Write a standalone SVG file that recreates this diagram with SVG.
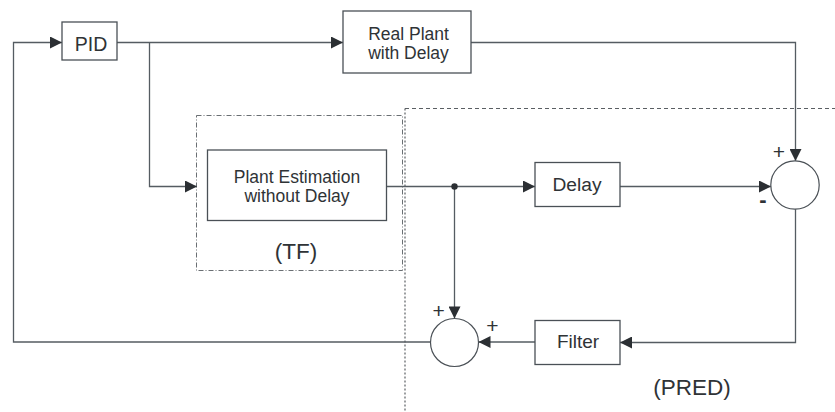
<svg xmlns="http://www.w3.org/2000/svg" width="835" height="412" viewBox="0 0 835 412">
<style>
.box{fill:#fff;stroke:#4a5056;stroke-width:1.3}
.ln{fill:none;stroke:#555c62;stroke-width:1.3}
.t{font-family:"Liberation Sans",Arial,sans-serif;fill:#2f3336;text-anchor:middle}
.tf{fill:none;stroke:#6a6f73;stroke-width:1;stroke-dasharray:5,2,1,2}
.pr{fill:none;stroke:#5a5f63;stroke-width:1;stroke-dasharray:4,3}
.prv{fill:none;stroke:#5a5f63;stroke-width:1.2;stroke-dasharray:2,2}
</style>
<defs>
<marker id="ah" markerUnits="userSpaceOnUse" markerWidth="13" markerHeight="12" viewBox="0 0 12 12" refX="12" refY="6" orient="auto">
<path d="M0,0 L12,6 L0,12 z" fill="#2b2f33"/>
</marker>
</defs>
<rect width="835" height="412" fill="#fff"/>
<g id="regions">
<rect class="tf" x="196.5" y="115.5" width="206" height="155"/>
<path class="pr" d="M405,108.5 H835"/>
<path class="prv" d="M405,108.5 V412"/>
<text class="t" x="296" y="258.5" font-size="22.5">(TF)</text>
<text class="t" x="692" y="395" font-size="22.5">(PRED)</text>
</g>
<g id="connectors">
<path class="ln" d="M430,342 H13.5 V42.5 H62" marker-end="url(#ah)"/>
<path class="ln" d="M117,42.5 H343" marker-end="url(#ah)"/>
<path class="ln" d="M149.5,42.5 V186.5 H197" marker-end="url(#ah)"/>
<path class="ln" d="M471,42.5 H795.5 V161" marker-end="url(#ah)"/>
<path class="ln" d="M387,186.5 H535" marker-end="url(#ah)"/>
<path class="ln" d="M620,186.5 H771" marker-end="url(#ah)"/>
<path class="ln" d="M795.5,209 V342.5 H620" marker-end="url(#ah)"/>
<path class="ln" d="M535,342 H478.5" marker-end="url(#ah)"/>
<path class="ln" d="M454.5,186.5 V318.5" marker-end="url(#ah)"/>
<circle cx="454.5" cy="186.5" r="3.2" fill="#2b2f33"/>
</g>
<g id="pid">
<rect class="box" x="62" y="22" width="55" height="38"/>
<text class="t" x="91" y="51" font-size="19.5">PID</text>
</g>
<g id="real-plant">
<rect class="box" x="343" y="11" width="128" height="62"/>
<text class="t" x="408.5" y="40" font-size="17.5">Real Plant</text>
<text class="t" x="408.5" y="59" font-size="17.5">with Delay</text>
</g>
<g id="plant-estimation">
<rect class="box" x="207.5" y="150" width="179" height="70.5"/>
<text class="t" x="297" y="183.3" font-size="17.5">Plant Estimation</text>
<text class="t" x="297" y="201.7" font-size="17.5">without Delay</text>
</g>
<g id="delay">
<rect class="box" x="535" y="162.5" width="85" height="44"/>
<text class="t" x="577" y="190.7" font-size="19.2">Delay</text>
</g>
<g id="filter">
<rect class="box" x="535" y="320.5" width="85" height="44"/>
<text class="t" x="578" y="348.3" font-size="19">Filter</text>
</g>
<g id="sum1">
<circle cx="795" cy="185" r="24.2" fill="#fff" stroke="#4a5056" stroke-width="1.2"/>
<text class="t" x="779" y="159" font-size="21">+</text>
<text class="t" x="763" y="207" font-size="22" font-weight="bold">-</text>
</g>
<g id="sum2">
<circle cx="454.5" cy="342.5" r="24" fill="#fff" stroke="#4a5056" stroke-width="1.2"/>
<text class="t" x="438.7" y="318" font-size="21">+</text>
<text class="t" x="492.3" y="333" font-size="21">+</text>
</g>
</svg>
